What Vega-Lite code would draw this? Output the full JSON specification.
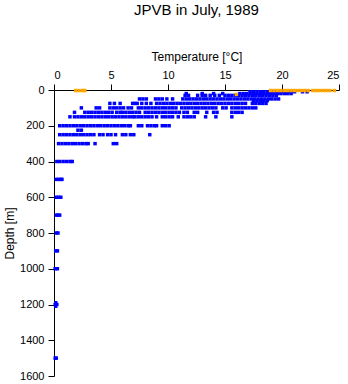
{
  "$schema": "https://vega.github.io/schema/vega-lite/v6.json",
  "width": 285,
  "height": 286,
  "autosize": {"type": "none"},
  "padding": {"left": 54, "top": 90, "right": 9, "bottom": 8},
  "background": "white",
  "title": {"text": "JPVB in July, 1989", "fontSize": 15, "fontWeight": "normal", "font": "Liberation Sans", "color": "black", "anchor": "middle", "offset": 32},
  "config": {
    "view": {"stroke": null},
    "axis": {"labelFont": "Liberation Sans", "titleFont": "Liberation Sans", "labelFontSize": 11, "titleFontSize": 12, "titleFontWeight": "normal", "labelColor": "black", "titleColor": "black", "domainColor": "black", "tickColor": "black", "tickSize": 6, "grid": false, "labelPadding": 4}
  },
  "data": {"values": [
    {"d":10,"t":17.2,"s":"a"},{"d":10,"t":17.5,"s":"a"},{"d":10,"t":17.8,"s":"a"},{"d":10,"t":18.1,"s":"a"},{"d":10,"t":18.4,"s":"a"},{"d":10,"t":18.7,"s":"a"},{"d":10,"t":19.0,"s":"a"},{"d":10,"t":19.3,"s":"a"},{"d":10,"t":19.6,"s":"a"},{"d":10,"t":19.9,"s":"a"},{"d":10,"t":20.2,"s":"a"},{"d":10,"t":20.5,"s":"a"},{"d":10,"t":20.8,"s":"a"},{"d":10,"t":21.1,"s":"a"},{"d":10,"t":21.8,"s":"a"},{"d":10,"t":22.2,"s":"a"},
    {"d":20,"t":11.6,"s":"a"},{"d":20,"t":13.0,"s":"a"},{"d":20,"t":14.0,"s":"a"},{"d":20,"t":14.8,"s":"a"},{"d":20,"t":16.3,"s":"a"},{"d":20,"t":16.6,"s":"a"},{"d":20,"t":16.9,"s":"a"},{"d":20,"t":17.2,"s":"a"},{"d":20,"t":17.5,"s":"a"},{"d":20,"t":17.8,"s":"a"},{"d":20,"t":18.1,"s":"a"},{"d":20,"t":18.4,"s":"a"},{"d":20,"t":18.7,"s":"a"},{"d":20,"t":19.0,"s":"a"},{"d":20,"t":19.3,"s":"a"},{"d":20,"t":19.6,"s":"a"},{"d":20,"t":19.9,"s":"a"},{"d":20,"t":20.2,"s":"a"},{"d":20,"t":20.5,"s":"a"},{"d":20,"t":20.8,"s":"a"},
    {"d":30,"t":11.5,"s":"a"},{"d":30,"t":11.8,"s":"a"},{"d":30,"t":12.6,"s":"a"},{"d":30,"t":13.0,"s":"a"},{"d":30,"t":13.3,"s":"a"},{"d":30,"t":13.7,"s":"a"},{"d":30,"t":14.1,"s":"a"},{"d":30,"t":14.5,"s":"a"},{"d":30,"t":15.0,"s":"a"},{"d":30,"t":15.3,"s":"a"},{"d":30,"t":15.6,"s":"a"},{"d":30,"t":15.9,"s":"a"},{"d":30,"t":16.2,"s":"a"},{"d":30,"t":16.5,"s":"a"},{"d":30,"t":16.8,"s":"a"},{"d":30,"t":17.1,"s":"a"},{"d":30,"t":17.4,"s":"a"},{"d":30,"t":17.7,"s":"a"},{"d":30,"t":18.0,"s":"a"},{"d":30,"t":18.3,"s":"a"},{"d":30,"t":18.6,"s":"a"},{"d":30,"t":18.9,"s":"a"},{"d":30,"t":19.2,"s":"a"},{"d":30,"t":19.5,"s":"a"},
    {"d":50,"t":7.5,"s":"a"},{"d":50,"t":7.8,"s":"a"},{"d":50,"t":8.1,"s":"a"},{"d":50,"t":8.9,"s":"a"},{"d":50,"t":9.2,"s":"a"},{"d":50,"t":9.5,"s":"a"},{"d":50,"t":9.9,"s":"a"},{"d":50,"t":10.4,"s":"a"},{"d":50,"t":11.3,"s":"a"},{"d":50,"t":11.6,"s":"a"},{"d":50,"t":11.9,"s":"a"},{"d":50,"t":12.2,"s":"a"},{"d":50,"t":12.5,"s":"a"},{"d":50,"t":12.8,"s":"a"},{"d":50,"t":13.1,"s":"a"},{"d":50,"t":13.4,"s":"a"},{"d":50,"t":13.7,"s":"a"},{"d":50,"t":14.0,"s":"a"},{"d":50,"t":14.3,"s":"a"},{"d":50,"t":14.6,"s":"a"},{"d":50,"t":14.9,"s":"a"},{"d":50,"t":15.2,"s":"a"},{"d":50,"t":15.5,"s":"a"},{"d":50,"t":15.8,"s":"a"},{"d":50,"t":16.1,"s":"a"},{"d":50,"t":16.4,"s":"a"},{"d":50,"t":16.7,"s":"a"},{"d":50,"t":17.0,"s":"a"},{"d":50,"t":17.3,"s":"a"},{"d":50,"t":17.6,"s":"a"},{"d":50,"t":17.9,"s":"a"},{"d":50,"t":18.2,"s":"a"},{"d":50,"t":18.5,"s":"a"},{"d":50,"t":18.8,"s":"a"},{"d":50,"t":19.1,"s":"a"},{"d":50,"t":19.4,"s":"a"},{"d":50,"t":19.7,"s":"a"},
    {"d":60,"t":17.5,"s":"a"},{"d":60,"t":17.8,"s":"a"},{"d":60,"t":18.1,"s":"a"},{"d":60,"t":18.4,"s":"a"},{"d":60,"t":18.7,"s":"a"},
    {"d":75,"t":4.9,"s":"a"},{"d":75,"t":5.3,"s":"a"},{"d":75,"t":5.8,"s":"a"},{"d":75,"t":6.9,"s":"a"},{"d":75,"t":7.1,"s":"a"},{"d":75,"t":7.3,"s":"a"},{"d":75,"t":7.7,"s":"a"},{"d":75,"t":8.1,"s":"a"},{"d":75,"t":8.5,"s":"a"},{"d":75,"t":9.0,"s":"a"},{"d":75,"t":9.3,"s":"a"},{"d":75,"t":9.6,"s":"a"},{"d":75,"t":9.9,"s":"a"},{"d":75,"t":10.2,"s":"a"},{"d":75,"t":10.5,"s":"a"},{"d":75,"t":10.8,"s":"a"},{"d":75,"t":11.1,"s":"a"},{"d":75,"t":11.4,"s":"a"},{"d":75,"t":11.7,"s":"a"},{"d":75,"t":12.0,"s":"a"},{"d":75,"t":12.3,"s":"a"},{"d":75,"t":12.6,"s":"a"},{"d":75,"t":12.9,"s":"a"},{"d":75,"t":13.2,"s":"a"},{"d":75,"t":13.5,"s":"a"},{"d":75,"t":13.8,"s":"a"},{"d":75,"t":14.1,"s":"a"},{"d":75,"t":14.4,"s":"a"},{"d":75,"t":14.7,"s":"a"},{"d":75,"t":15.0,"s":"a"},{"d":75,"t":15.3,"s":"a"},{"d":75,"t":15.6,"s":"a"},{"d":75,"t":15.9,"s":"a"},{"d":75,"t":16.2,"s":"a"},{"d":75,"t":16.5,"s":"a"},{"d":75,"t":16.8,"s":"a"},{"d":75,"t":17.4,"s":"a"},{"d":75,"t":17.7,"s":"a"},{"d":75,"t":18.0,"s":"a"},{"d":75,"t":18.3,"s":"a"},{"d":75,"t":18.6,"s":"a"},
    {"d":100,"t":2.4,"s":"a"},{"d":100,"t":3.7,"s":"a"},{"d":100,"t":4.0,"s":"a"},{"d":100,"t":4.9,"s":"a"},{"d":100,"t":5.2,"s":"a"},{"d":100,"t":5.5,"s":"a"},{"d":100,"t":5.8,"s":"a"},{"d":100,"t":6.1,"s":"a"},{"d":100,"t":6.5,"s":"a"},{"d":100,"t":6.8,"s":"a"},{"d":100,"t":7.4,"s":"a"},{"d":100,"t":7.7,"s":"a"},{"d":100,"t":8.0,"s":"a"},{"d":100,"t":8.3,"s":"a"},{"d":100,"t":8.6,"s":"a"},{"d":100,"t":8.9,"s":"a"},{"d":100,"t":9.2,"s":"a"},{"d":100,"t":9.5,"s":"a"},{"d":100,"t":9.8,"s":"a"},{"d":100,"t":10.1,"s":"a"},{"d":100,"t":10.4,"s":"a"},{"d":100,"t":10.7,"s":"a"},{"d":100,"t":11.2,"s":"a"},{"d":100,"t":11.5,"s":"a"},{"d":100,"t":11.8,"s":"a"},{"d":100,"t":12.1,"s":"a"},{"d":100,"t":12.4,"s":"a"},{"d":100,"t":12.7,"s":"a"},{"d":100,"t":13.0,"s":"a"},{"d":100,"t":13.3,"s":"a"},{"d":100,"t":13.6,"s":"a"},{"d":100,"t":13.9,"s":"a"},{"d":100,"t":14.2,"s":"a"},{"d":100,"t":14.8,"s":"a"},{"d":100,"t":15.1,"s":"a"},{"d":100,"t":15.6,"s":"a"},{"d":100,"t":15.9,"s":"a"},{"d":100,"t":16.2,"s":"a"},{"d":100,"t":16.5,"s":"a"},{"d":100,"t":16.8,"s":"a"},{"d":100,"t":17.1,"s":"a"},{"d":100,"t":17.4,"s":"a"},{"d":100,"t":17.7,"s":"a"},
    {"d":125,"t":1.8,"s":"a"},{"d":125,"t":2.7,"s":"a"},{"d":125,"t":3.0,"s":"a"},{"d":125,"t":3.3,"s":"a"},{"d":125,"t":3.6,"s":"a"},{"d":125,"t":3.9,"s":"a"},{"d":125,"t":4.2,"s":"a"},{"d":125,"t":4.5,"s":"a"},{"d":125,"t":4.8,"s":"a"},{"d":125,"t":5.1,"s":"a"},{"d":125,"t":5.5,"s":"a"},{"d":125,"t":5.8,"s":"a"},{"d":125,"t":6.0,"s":"a"},{"d":125,"t":6.3,"s":"a"},{"d":125,"t":6.6,"s":"a"},{"d":125,"t":6.9,"s":"a"},{"d":125,"t":7.2,"s":"a"},{"d":125,"t":7.5,"s":"a"},{"d":125,"t":8.0,"s":"a"},{"d":125,"t":8.3,"s":"a"},{"d":125,"t":8.6,"s":"a"},{"d":125,"t":8.9,"s":"a"},{"d":125,"t":9.2,"s":"a"},{"d":125,"t":9.5,"s":"a"},{"d":125,"t":9.8,"s":"a"},{"d":125,"t":10.1,"s":"a"},{"d":125,"t":10.4,"s":"a"},{"d":125,"t":10.7,"s":"a"},{"d":125,"t":11.0,"s":"a"},{"d":125,"t":11.4,"s":"a"},{"d":125,"t":11.7,"s":"a"},{"d":125,"t":12.3,"s":"a"},{"d":125,"t":12.6,"s":"a"},{"d":125,"t":13.4,"s":"a"},{"d":125,"t":14.0,"s":"a"},{"d":125,"t":14.3,"s":"a"},{"d":125,"t":15.6,"s":"a"},{"d":125,"t":15.9,"s":"a"},{"d":125,"t":16.2,"s":"a"},{"d":125,"t":16.5,"s":"a"},
    {"d":150,"t":1.4,"s":"a"},{"d":150,"t":1.8,"s":"a"},{"d":150,"t":2.1,"s":"a"},{"d":150,"t":2.4,"s":"a"},{"d":150,"t":2.7,"s":"a"},{"d":150,"t":3.0,"s":"a"},{"d":150,"t":3.3,"s":"a"},{"d":150,"t":3.6,"s":"a"},{"d":150,"t":3.9,"s":"a"},{"d":150,"t":4.2,"s":"a"},{"d":150,"t":4.5,"s":"a"},{"d":150,"t":4.8,"s":"a"},{"d":150,"t":5.1,"s":"a"},{"d":150,"t":5.4,"s":"a"},{"d":150,"t":5.7,"s":"a"},{"d":150,"t":6.0,"s":"a"},{"d":150,"t":6.3,"s":"a"},{"d":150,"t":6.6,"s":"a"},{"d":150,"t":6.9,"s":"a"},{"d":150,"t":7.1,"s":"a"},{"d":150,"t":7.4,"s":"a"},{"d":150,"t":7.7,"s":"a"},{"d":150,"t":8.0,"s":"a"},{"d":150,"t":8.3,"s":"a"},{"d":150,"t":8.6,"s":"a"},{"d":150,"t":9.0,"s":"a"},{"d":150,"t":9.5,"s":"a"},{"d":150,"t":9.8,"s":"a"},{"d":150,"t":10.1,"s":"a"},{"d":150,"t":10.4,"s":"a"},{"d":150,"t":10.9,"s":"a"},{"d":150,"t":11.4,"s":"a"},{"d":150,"t":11.7,"s":"a"},{"d":150,"t":12.0,"s":"a"},{"d":150,"t":12.3,"s":"a"},{"d":150,"t":13.3,"s":"a"},{"d":150,"t":14.2,"s":"a"},{"d":150,"t":15.6,"s":"a"},
    {"d":200,"t":0.5,"s":"a"},{"d":200,"t":0.8,"s":"a"},{"d":200,"t":1.1,"s":"a"},{"d":200,"t":1.4,"s":"a"},{"d":200,"t":1.7,"s":"a"},{"d":200,"t":2.0,"s":"a"},{"d":200,"t":2.3,"s":"a"},{"d":200,"t":2.6,"s":"a"},{"d":200,"t":2.9,"s":"a"},{"d":200,"t":3.2,"s":"a"},{"d":200,"t":3.5,"s":"a"},{"d":200,"t":3.8,"s":"a"},{"d":200,"t":4.1,"s":"a"},{"d":200,"t":4.4,"s":"a"},{"d":200,"t":4.7,"s":"a"},{"d":200,"t":5.0,"s":"a"},{"d":200,"t":5.3,"s":"a"},{"d":200,"t":5.6,"s":"a"},{"d":200,"t":5.9,"s":"a"},{"d":200,"t":6.2,"s":"a"},{"d":200,"t":6.5,"s":"a"},{"d":200,"t":6.7,"s":"a"},{"d":200,"t":7.4,"s":"a"},{"d":200,"t":7.7,"s":"a"},{"d":200,"t":8.2,"s":"a"},{"d":200,"t":8.5,"s":"a"},{"d":200,"t":8.8,"s":"a"},{"d":200,"t":9.0,"s":"a"},{"d":200,"t":9.5,"s":"a"},{"d":200,"t":9.8,"s":"a"},{"d":200,"t":10.1,"s":"a"},
    {"d":225,"t":2.1,"s":"a"},{"d":225,"t":2.4,"s":"a"},
    {"d":250,"t":0.5,"s":"a"},{"d":250,"t":0.8,"s":"a"},{"d":250,"t":1.1,"s":"a"},{"d":250,"t":1.4,"s":"a"},{"d":250,"t":1.7,"s":"a"},{"d":250,"t":2.0,"s":"a"},{"d":250,"t":2.3,"s":"a"},{"d":250,"t":2.6,"s":"a"},{"d":250,"t":2.9,"s":"a"},{"d":250,"t":3.2,"s":"a"},{"d":250,"t":3.5,"s":"a"},{"d":250,"t":4.0,"s":"a"},{"d":250,"t":4.3,"s":"a"},{"d":250,"t":4.7,"s":"a"},{"d":250,"t":5.0,"s":"a"},{"d":250,"t":5.4,"s":"a"},{"d":250,"t":6.0,"s":"a"},{"d":250,"t":6.3,"s":"a"},{"d":250,"t":6.7,"s":"a"},{"d":250,"t":7.0,"s":"a"},{"d":250,"t":8.4,"s":"a"},
    {"d":300,"t":0.4,"s":"a"},{"d":300,"t":0.7,"s":"a"},{"d":300,"t":1.0,"s":"a"},{"d":300,"t":1.3,"s":"a"},{"d":300,"t":1.6,"s":"a"},{"d":300,"t":1.9,"s":"a"},{"d":300,"t":2.2,"s":"a"},{"d":300,"t":2.5,"s":"a"},{"d":300,"t":2.8,"s":"a"},{"d":300,"t":3.0,"s":"a"},{"d":300,"t":3.6,"s":"a"},{"d":300,"t":5.2,"s":"a"},{"d":300,"t":5.5,"s":"a"},
    {"d":400,"t":0.25,"s":"a"},{"d":400,"t":0.5,"s":"a"},{"d":400,"t":0.8,"s":"a"},{"d":400,"t":1.1,"s":"a"},{"d":400,"t":1.4,"s":"a"},{"d":400,"t":1.6,"s":"a"},
    {"d":500,"t":0.2,"s":"a"},{"d":500,"t":0.4,"s":"a"},{"d":500,"t":0.6,"s":"a"},{"d":500,"t":0.7,"s":"a"},
    {"d":600,"t":0.2,"s":"a"},{"d":600,"t":0.4,"s":"a"},{"d":600,"t":0.6,"s":"a"},
    {"d":700,"t":0.2,"s":"a"},{"d":700,"t":0.35,"s":"a"},{"d":700,"t":0.5,"s":"a"},
    {"d":800,"t":0.2,"s":"a"},{"d":800,"t":0.35,"s":"a"},
    {"d":900,"t":0.15,"s":"a"},{"d":900,"t":0.3,"s":"a"},
    {"d":1000,"t":0.1,"s":"a"},{"d":1000,"t":0.3,"s":"a"},
    {"d":1190,"t":0.15,"s":"a"},{"d":1200,"t":0.1,"s":"a"},{"d":1200,"t":0.25,"s":"a"},{"d":1210,"t":0.15,"s":"a"},
    {"d":1500,"t":0.1,"s":"a"},{"d":1500,"t":0.2,"s":"a"},
    {"d":3,"t":1.9,"s":"b"},{"d":3,"t":2.2,"s":"b"},{"d":3,"t":2.5,"s":"b"},{"d":3,"t":2.7,"s":"b"},{"d":3,"t":19.0,"s":"b"},{"d":3,"t":19.3,"s":"b"},{"d":3,"t":19.6,"s":"b"},{"d":3,"t":19.9,"s":"b"},{"d":3,"t":20.2,"s":"b"},{"d":3,"t":20.5,"s":"b"},{"d":3,"t":20.8,"s":"b"},{"d":3,"t":21.1,"s":"b"},{"d":3,"t":21.4,"s":"b"},{"d":3,"t":21.7,"s":"b"},{"d":3,"t":22.0,"s":"b"},{"d":3,"t":22.3,"s":"b"},{"d":3,"t":22.7,"s":"b"},{"d":3,"t":23.0,"s":"b"},{"d":3,"t":23.3,"s":"b"},{"d":3,"t":23.6,"s":"b"},{"d":3,"t":23.9,"s":"b"},{"d":3,"t":24.2,"s":"b"},{"d":3,"t":24.6,"s":"b"},
    {"d":25,"t":16.0,"s":"b"}
  ]},
  "mark": {"type": "point", "shape": "square", "filled": true, "size": 12, "opacity": 1},
  "encoding": {
    "x": {"field": "t", "type": "quantitative", "scale": {"domain": [0, 25], "nice": false, "zero": false}, "axis": {"orient": "top", "values": [0, 5, 10, 15, 20, 25], "title": "Temperature [°C]", "titlePadding": 6}},
    "y": {"field": "d", "type": "quantitative", "scale": {"domain": [0, 1600], "reverse": true, "nice": false}, "axis": {"values": [0, 200, 400, 600, 800, 1000, 1200, 1400, 1600], "format": "d", "title": "Depth [m]", "titlePadding": 3}},
    "color": {"field": "s", "type": "nominal", "scale": {"domain": ["a", "b"], "range": ["#0000ff", "#ffa500"]}, "legend": null}
  }
}
